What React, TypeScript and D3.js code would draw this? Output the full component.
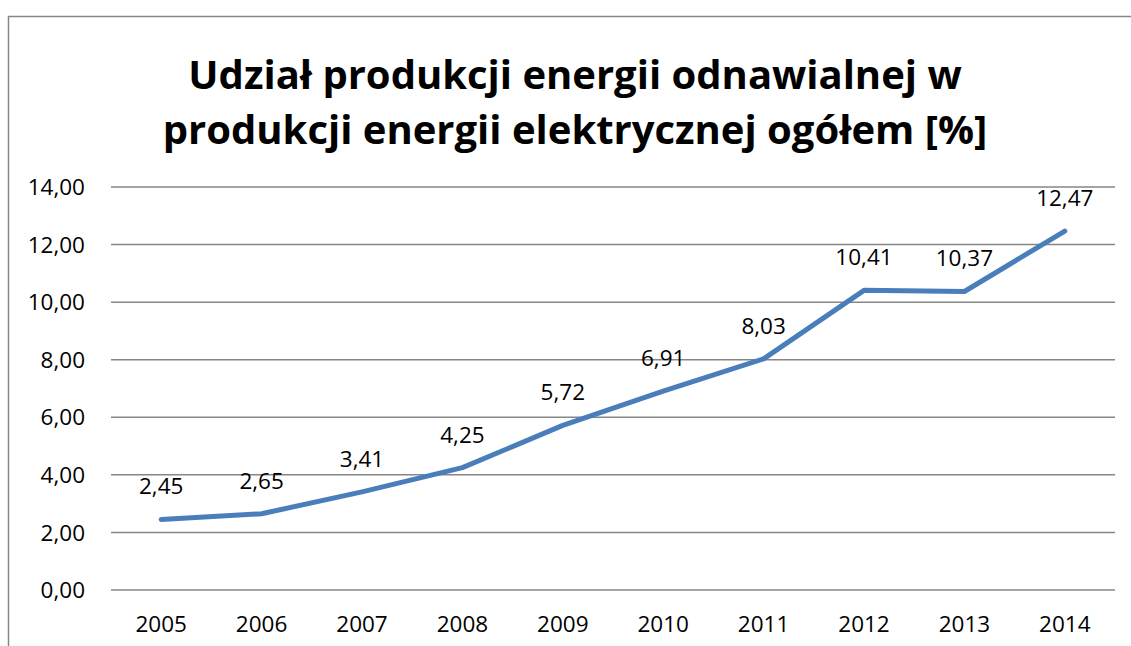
import React, { useEffect, useRef } from 'react'
import * as d3 from 'd3'

const years = ['2005', '2006', '2007', '2008', '2009', '2010', '2011', '2012', '2013', '2014']
const shares = [2.45, 2.65, 3.41, 4.25, 5.72, 6.91, 8.03, 10.41, 10.37, 12.47]
const yTicks = [0, 2, 4, 6, 8, 10, 12, 14]
const titleLines = ['Udział produkcji energii odnawialnej w', 'produkcji energii elektrycznej ogółem [%]']

const fmt = (v: number) => v.toFixed(2).replace('.', ',')

export default function App() {
  const ref = useRef<SVGSVGElement>(null)

  useEffect(() => {
    document.body.style.margin = '0'
    const svg = d3.select(ref.current)
    svg.selectAll('*').remove()

    const font = "'Open Sans', sans-serif"
    const labelSize = '22.5px'

    // chart frame (clipped by the window on the right and bottom)
    svg.append('rect')
      .attr('x', 8.5).attr('y', 16.5)
      .attr('width', 1200).attr('height', 700)
      .attr('fill', 'white')
      .attr('stroke', '#868686').attr('stroke-width', 1.5)

    const title = svg.append('text')
      .attr('text-anchor', 'middle')
      .style('font-family', font)
      .style('font-weight', 'bold')
      .style('font-size', '40px')
      .attr('fill', 'black')
    titleLines.forEach((t, i) => {
      title.append('tspan').attr('x', 575).attr('y', 89 + i * 55).text(t)
    })

    const x = d3.scaleBand().domain(years).range([111, 1115])
    const y = d3.scaleLinear().domain([0, 14]).range([590, 187])

    // gridlines
    svg.append('g').selectAll('line')
      .data(yTicks)
      .enter().append('line')
      .attr('x1', 111).attr('x2', 1115)
      .attr('y1', d => y(d)).attr('y2', d => y(d))
      .attr('stroke', '#868686').attr('stroke-width', 1.5)

    // y labels
    svg.append('g').selectAll('text')
      .data(yTicks)
      .enter().append('text')
      .attr('x', 85).attr('y', d => y(d))
      .attr('dy', '0.36em')
      .attr('text-anchor', 'end')
      .style('font-family', font).style('font-size', labelSize)
      .text(d => fmt(d))

    // x labels
    svg.append('g').selectAll('text')
      .data(years)
      .enter().append('text')
      .attr('x', d => (x(d) as number) + x.bandwidth() / 2)
      .attr('y', 632)
      .attr('text-anchor', 'middle')
      .style('font-family', font).style('font-size', labelSize)
      .text(d => d)

    const cx = (i: number) => (x(years[i]) as number) + x.bandwidth() / 2

    const line = d3.line<number>()
      .x((_, i) => cx(i))
      .y(d => y(d))

    svg.append('path')
      .datum(shares)
      .attr('d', line)
      .attr('fill', 'none')
      .attr('stroke', '#4a7ebb')
      .attr('stroke-width', 5)
      .attr('stroke-linecap', 'round')
      .attr('stroke-linejoin', 'round')

    // data labels
    svg.append('g').selectAll('text')
      .data(shares)
      .enter().append('text')
      .attr('x', (_, i) => cx(i))
      .attr('y', d => y(d) - 25)
      .attr('text-anchor', 'middle')
      .style('font-family', font).style('font-size', labelSize)
      .text(d => fmt(d))
  }, [])

  return <svg ref={ref} width={1131} height={646} style={{ display: 'block' }}></svg>
}
